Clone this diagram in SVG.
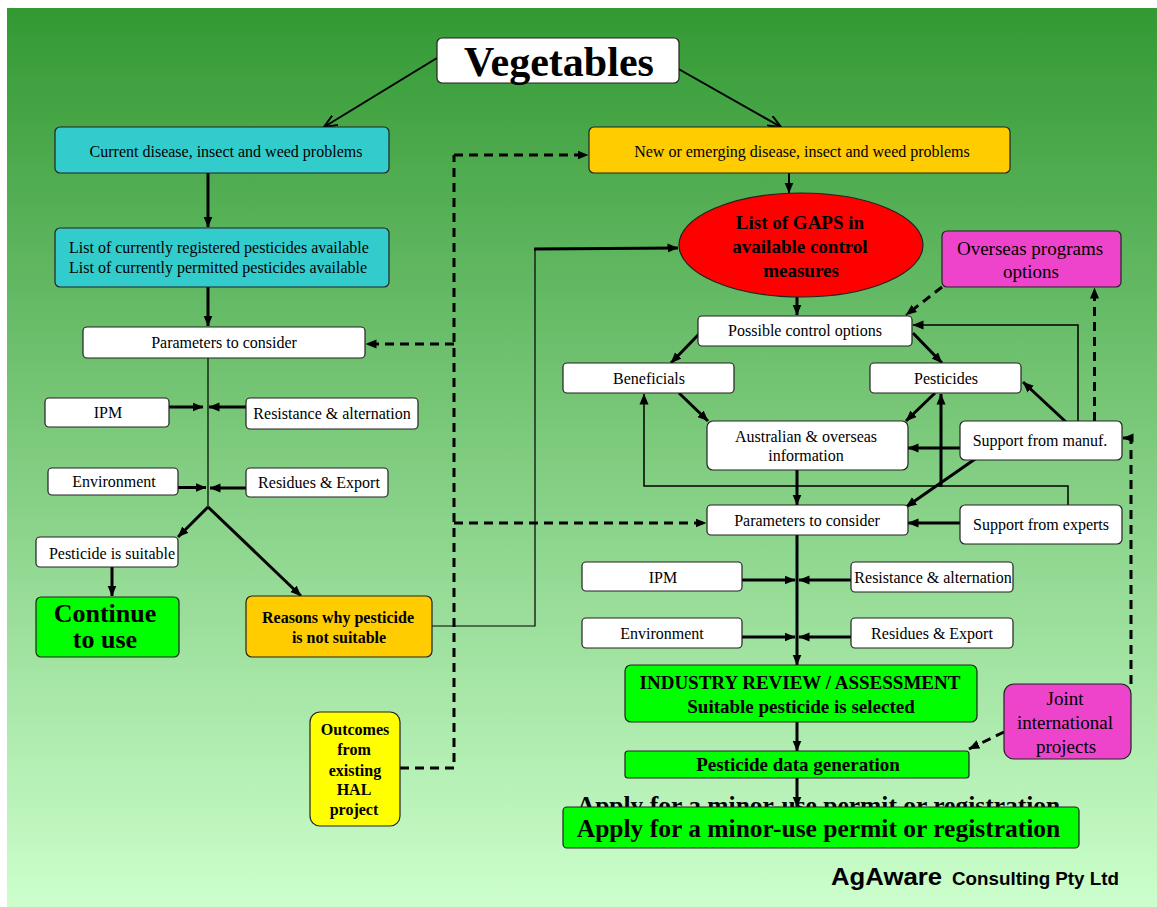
<svg xmlns="http://www.w3.org/2000/svg" width="1157" height="907" viewBox="0 0 1157 907">
<defs>
<linearGradient id="bg" x1="0" y1="0" x2="0" y2="1">
<stop offset="0" stop-color="#339933"/>
<stop offset="1" stop-color="#ccffcc"/>
</linearGradient>
<marker id="ah" viewBox="0 0 11 10" refX="10.5" refY="5" markerWidth="11" markerHeight="10" markerUnits="userSpaceOnUse" orient="auto">
<path d="M0,0.5 L11,5 L0,9.5 z" fill="#000"/>
</marker>
<marker id="ov" viewBox="0 0 14 12" refX="13" refY="6" markerWidth="14" markerHeight="12" markerUnits="userSpaceOnUse" orient="auto">
<path d="M0,0.5 L13,6 L0,11.5" fill="none" stroke="#000" stroke-width="2"/>
</marker>
<style>
text{font-family:"Liberation Serif","Times New Roman",serif;font-size:16px;fill:#000;text-anchor:middle}
.b{font-weight:bold}
.box{stroke:#222;stroke-width:1.2}
.w{fill:#fff}
.cy{fill:#33cccc}
.or{fill:#ffcc00}
.gr{fill:#00ff00}
.mg{fill:#ee44cc}
.ye{fill:#ffff00}
.thick{stroke:#000;stroke-width:3;fill:none;marker-end:url(#ah)}
.line{stroke:#000;stroke-width:3;fill:none}
.thin{stroke:#000;stroke-width:1.2;fill:none}
.thinA{stroke:#000;stroke-width:1.5;fill:none;marker-end:url(#ah)}
.dash{stroke:#000;stroke-width:3;stroke-dasharray:9 6;fill:none}
.dashA{stroke:#000;stroke-width:3;stroke-dasharray:9 6;fill:none;marker-end:url(#ah)}
.open{stroke:#000;stroke-width:2;fill:none;marker-end:url(#ov)}
.big{font-size:19px}
.sans{font-family:"Liberation Sans",Arial,sans-serif;font-weight:bold;text-anchor:start}
</style>
</defs>
<rect x="0" y="0" width="1157" height="907" fill="#fff"/>
<rect x="7" y="8" width="1150" height="899" fill="url(#bg)"/>

<g id="connectors">
<path class="open" d="M437,58 L324,127"/>
<path class="open" d="M675,67 L781,127"/>
<path class="thick" d="M208,173 L208,227"/>
<path class="thick" d="M208,287 L208,326"/>
<path class="thin" d="M208,358 L208,507"/>
<path class="thick" d="M169,407 L203,407"/>
<path class="thick" d="M246,407 L209,407"/>
<path class="thick" d="M178,487.5 L206,487.5"/>
<path class="thick" d="M246,488 L210,488"/>
<path class="thick" d="M208,507 L178,537"/>
<path class="thick" d="M208,507 L301,596"/>
<path class="thick" d="M112,567 L112,596"/>
<path class="thin" d="M432,626 L535,626 L535,249"/>
<path class="thick" d="M534,249 L678,248"/>
<path class="dash" d="M400,768 L454,768 L454,155"/>
<path class="dashA" d="M454,155 L588,155"/>
<path class="dashA" d="M454,344 L366,344"/>
<path class="dashA" d="M454,523 L706,523"/>
<path class="stroke" d="M789,173 L789,193" stroke="#000" stroke-width="2" fill="none" marker-end="url(#ah)"/>
<path class="thick" d="M797,297 L797,315"/>
<path class="dashA" d="M942,287 L906,315"/>
<path class="dashA" d="M1094.5,421 L1094.5,288"/>
<path class="thick" d="M700,333 L671,363"/>
<path class="thick" d="M913,333 L942,363"/>
<path class="thick" d="M679,393 L708,421"/>
<path class="thick" d="M935,393 L906,421"/>
<path class="thick" d="M960,448 L908,448"/>
<path class="thick" d="M1066,422 L1023,382"/>
<path class="thinA" d="M1078,421 L1078,325 L913,325"/>
<path class="thick" d="M978,457 L906,507"/>
<path class="thinA" d="M1068,505 L1068,486 L644,486 L644,394"/>
<path class="thick" d="M941,487 L941,394"/>
<path class="thick" d="M797,470 L797,505"/>
<path class="thick" d="M960,523 L908,523"/>
<path class="thick" d="M797,535 L797,665"/>
<path class="thick" d="M742,580 L795,580"/>
<path class="thick" d="M851,580 L799,580"/>
<path class="thick" d="M742,637 L795,637"/>
<path class="thick" d="M851,637 L799,637"/>
<path class="thick" d="M797,722 L797,751"/>
<path class="thick" d="M797,778 L797,807"/>
<path class="dashA" d="M1004,732 L969,749"/>
<path class="dash" d="M1131,684 L1131,438"/>
<path class="dashA" d="M1131,438 L1123,438"/>
</g>

<g id="veg"><rect class="box w" x="437" y="38" width="242" height="45" rx="5"/><text class="b" x="559" y="76" style="font-size:42px">Vegetables</text></g>
<g id="current"><rect class="box cy" x="55" y="127" width="334" height="46" rx="5"/><text x="226" y="157">Current disease, insect and weed problems</text></g>
<g id="list"><rect class="box cy" x="55" y="228" width="334" height="59" rx="5"/><text x="69" y="253" style="text-anchor:start">List of currently registered pesticides available</text><text x="69" y="273" style="text-anchor:start">List of currently permitted pesticides available</text></g>
<g id="params-left"><rect class="box w" x="83" y="327" width="282" height="31" rx="4"/><text x="224" y="348">Parameters to consider</text></g>
<g id="ipm-left"><rect class="box w" x="45" y="398" width="124" height="29" rx="4"/><text x="108" y="418">IPM</text></g>
<g id="resist-left"><rect class="box w" x="246" y="398" width="172" height="31" rx="4"/><text x="332" y="419">Resistance &amp; alternation</text></g>
<g id="env-left"><rect class="box w" x="48" y="468" width="130" height="27" rx="4"/><text x="114" y="487">Environment</text></g>
<g id="resid-left"><rect class="box w" x="246" y="468" width="142" height="29" rx="4"/><text x="319" y="488">Residues &amp; Export</text></g>
<g id="suitable"><rect class="box w" x="36" y="537" width="142" height="30" rx="4"/><text x="112" y="559">Pesticide is suitable</text></g>
<g id="continue"><rect class="box gr" x="36" y="597" width="143" height="60" rx="5"/><text class="b" x="105" y="622" style="font-size:26px">Continue</text><text class="b" x="105" y="648" style="font-size:26px">to use</text></g>
<g id="reasons"><rect class="box or" x="246" y="596" width="186" height="61" rx="6"/><text class="b" x="338" y="623">Reasons why pesticide</text><text class="b" x="339" y="643">is not suitable</text></g>
<g id="outcomes"><rect class="box ye" x="310" y="712" width="90" height="114" rx="10"/><text class="b" x="355" y="735">Outcomes</text><text class="b" x="354" y="755">from</text><text class="b" x="355" y="776">existing</text><text class="b" x="354" y="795">HAL</text><text class="b" x="354" y="815">project</text></g>
<g id="new"><rect class="box or" x="589" y="127" width="421" height="46" rx="5"/><text x="802" y="157">New or emerging disease, insect and weed problems</text></g>
<g id="gaps"><ellipse class="box" cx="801" cy="245" rx="122" ry="52" fill="#ff0000"/><text class="b big" x="800" y="229">List of GAPS in</text><text class="b big" x="800" y="253">available control</text><text class="b big" x="801" y="277">measures</text></g>
<g id="overseas"><rect class="box mg" x="942" y="231" width="179" height="56" rx="5"/><text class="big" x="1030" y="255">Overseas programs</text><text class="big" x="1031" y="278">options</text></g>
<g id="possible"><rect class="box w" x="698" y="316" width="214" height="30" rx="4"/><text x="805" y="336">Possible control options</text></g>
<g id="beneficials"><rect class="box w" x="563" y="363" width="171" height="30" rx="4"/><text x="649" y="384">Beneficials</text></g>
<g id="pesticides"><rect class="box w" x="870" y="363" width="151" height="30" rx="4"/><text x="946" y="384">Pesticides</text></g>
<g id="austr"><rect class="box w" x="707" y="421" width="201" height="49" rx="6"/><text x="806" y="442">Australian &amp; overseas</text><text x="806" y="461">information</text></g>
<g id="manuf"><rect class="box w" x="960" y="421" width="162" height="39" rx="5"/><text x="1040" y="446">Support from manuf.</text></g>
<g id="params-right"><rect class="box w" x="707" y="505" width="201" height="30" rx="4"/><text x="807" y="526">Parameters to consider</text></g>
<g id="experts"><rect class="box w" x="960" y="505" width="162" height="39" rx="5"/><text x="1041" y="530">Support from experts</text></g>
<g id="ipm-right"><rect class="box w" x="582" y="562" width="160" height="29" rx="4"/><text x="663" y="583">IPM</text></g>
<g id="resist-right"><rect class="box w" x="851" y="562" width="162" height="30" rx="4"/><text x="933" y="583">Resistance &amp; alternation</text></g>
<g id="env-right"><rect class="box w" x="582" y="618" width="160" height="30" rx="4"/><text x="662" y="639">Environment</text></g>
<g id="resid-right"><rect class="box w" x="851" y="618" width="162" height="30" rx="4"/><text x="932" y="639">Residues &amp; Export</text></g>
<g id="industry"><rect class="box gr" x="625" y="665" width="352" height="57" rx="6"/><text class="b big" x="800" y="689">INDUSTRY REVIEW / ASSESSMENT</text><text class="b big" x="801" y="713">Suitable pesticide is selected</text></g>
<g id="pdata"><rect class="box gr" x="625" y="751" width="344" height="27" rx="3"/><text class="b big" x="798" y="771">Pesticide data generation</text></g>
<g id="joint"><rect class="box mg" x="1004" y="684" width="127" height="75" rx="10"/><text class="big" x="1065" y="705">Joint</text><text class="big" x="1065" y="729">international</text><text class="big" x="1066" y="753">projects</text></g>
<g id="apply"><text class="b" x="818.5" y="814" style="font-size:25.5px">Apply for a minor-use permit or registration</text><rect class="box gr" x="563" y="807" width="516" height="41" rx="4"/><text class="b" x="818.5" y="837" style="font-size:25.5px">Apply for a minor-use permit or registration</text></g>
<g id="logo"><text class="sans" x="831" y="885" style="font-size:23px" textLength="111" lengthAdjust="spacingAndGlyphs">AgAware</text><text class="sans" x="952" y="885" style="font-size:17.7px" textLength="167" lengthAdjust="spacingAndGlyphs">Consulting Pty Ltd</text></g>
</svg>
